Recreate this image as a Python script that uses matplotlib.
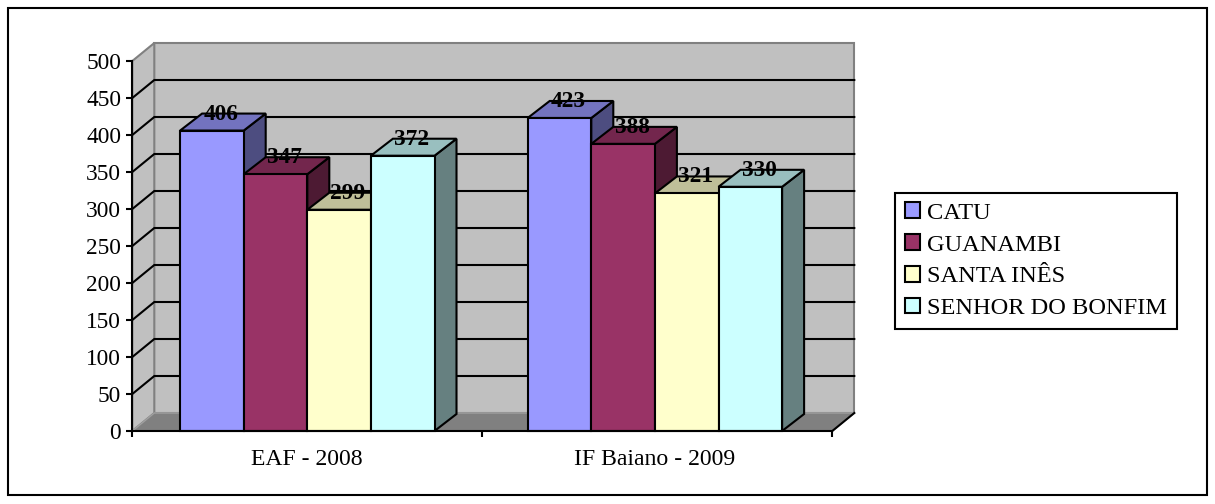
import matplotlib
matplotlib.use("Agg")
from matplotlib import pyplot as plt
from matplotlib.patches import Patch, Polygon, Rectangle
from matplotlib.colors import to_rgb

plt.rcParams['font.family'] = ['Liberation Serif', 'DejaVu Serif']

groups = ["EAF - 2008", "IF Baiano - 2009"]
series = ["CATU", "GUANAMBI", "SANTA INÊS", "SENHOR DO BONFIM"]
catu = [406, 423]
guanambi = [347, 388]
santa_ines = [299, 321]
bonfim = [372, 330]
colors = ["#9999FF", "#993366", "#FFFFCC", "#CCFFFF"]
yticks = [0, 50, 100, 150, 200, 250, 300, 350, 400, 450, 500]

W, H = 1215, 504
fig = plt.figure(figsize=(W / 100, H / 100), dpi=100)
ax = fig.add_axes([132.3 / W, (H - 431) / H, 700 / W, 370 / H])
ax.set_xlim(-0.5, 1.5)
ax.set_ylim(0, 500)
ax.patch.set_visible(False)

# outer frame of the chart
fig.patches.append(Rectangle((8 / W, 1 - 495 / H), 1199 / W, 487 / H, transform=fig.transFigure,
                             facecolor="white", edgecolor="black", lw=1.5, zorder=-10))

# pixels to data units, for the fake depth
px_x = 2.0 / 700
px_y = 500 / 370
wall_dx, wall_dy = 22 * px_x, 18 * px_y
bar_dx, bar_dy = 22 * px_x, 17 * px_y
x0, x1 = ax.get_xlim()
top = yticks[-1]
step = 347.6 / 350
centers = [g * step for g in range(len(groups))]
LW = 1.5


def poly(pts, **kw):
    ax.add_patch(Polygon(pts, closed=True, clip_on=False, **kw))


def shade(c, f):
    return tuple(v * f for v in to_rgb(c))


# floor and walls
wall = dict(facecolor="#C0C0C0", edgecolor="#808080", lw=LW, zorder=1)
poly([(x0 + wall_dx, wall_dy), (x1 + wall_dx, wall_dy), (x1 + wall_dx, top + wall_dy), (x0 + wall_dx, top + wall_dy)], **wall)
poly([(x0, 0), (x0 + wall_dx, wall_dy), (x0 + wall_dx, top + wall_dy), (x0, top)], **wall)
poly([(x0, 0), (x1, 0), (x1 + wall_dx, wall_dy), (x0 + wall_dx, wall_dy)], facecolor="#808080", edgecolor="#A0A0A0", lw=1, zorder=1)
ax.plot([x1, x1 + wall_dx], [0, wall_dy], color="black", lw=LW, clip_on=False, zorder=2)

for t in yticks[1:-1]:
    ax.plot([x0, x0 + wall_dx, x1 + wall_dx], [t, t + wall_dy, t + wall_dy], color="black", lw=LW,
            clip_on=False, zorder=2, solid_joinstyle="miter")

# bars, left to right so each one covers the side of the previous one
values = [catu, guanambi, santa_ines, bonfim]
bar_w = 63.6 * px_x
edge = dict(edgecolor="black", lw=LW, joinstyle="miter", zorder=3)
for g, center in enumerate(centers):
    left = center - 2 * bar_w
    for s, vals in enumerate(values):
        v = vals[g]
        a = left + s * bar_w
        b = a + bar_w
        c = colors[s]
        poly([(b, 0), (b + bar_dx, bar_dy), (b + bar_dx, v + bar_dy), (b, v)], facecolor=shade(c, 0.5), **edge)
        poly([(a, v), (a + bar_dx, v + bar_dy), (b + bar_dx, v + bar_dy), (b, v)], facecolor=shade(c, 0.75), **edge)
        poly([(a, 0), (b, 0), (b, v), (a, v)], facecolor=c, **edge)

# data labels go on top once all bars are drawn
for g, center in enumerate(centers):
    left = center - 2 * bar_w
    for s, vals in enumerate(values):
        ax.text(left + (s + 0.5) * bar_w + 9 * px_x, vals[g] + 16.5 * px_y, str(vals[g]), ha="center", va="center",
                fontsize=16.8, fontweight="bold", color="black", zorder=5)

for side in ["top", "right"]:
    ax.spines[side].set_visible(False)
for side in ["left", "bottom"]:
    ax.spines[side].set_linewidth(LW)
    ax.spines[side].set_zorder(4)

ax.set_yticks(yticks)
ax.set_xticks([x0, 0.5, x1])
ax.set_xticklabels([])
ax.set_xticks(centers, minor=True)
ax.set_xticklabels(groups, minor=True)
ax.tick_params(axis="x", which="minor", length=0, pad=13, labelsize=17.1)
ax.tick_params(axis="x", which="major", length=4, width=LW)
ax.tick_params(axis="y", length=4, width=LW, pad=4, labelsize=16.8)

handles = [Patch(facecolor=c, edgecolor="black", lw=LW) for c in colors]
leg = ax.legend(handles, series, loc="upper left", bbox_to_anchor=(895 / W, 1 - 192.5 / H), bbox_transform=fig.transFigure,
                fontsize=17.6, frameon=True, fancybox=False, framealpha=1, edgecolor="black",
                handlelength=0.62, handleheight=0.62, handletextpad=0.3, labelspacing=0.42,
                borderpad=0.4, borderaxespad=0)
leg.get_frame().set_linewidth(LW)

fig.savefig("out.png", dpi=100, facecolor="white")
